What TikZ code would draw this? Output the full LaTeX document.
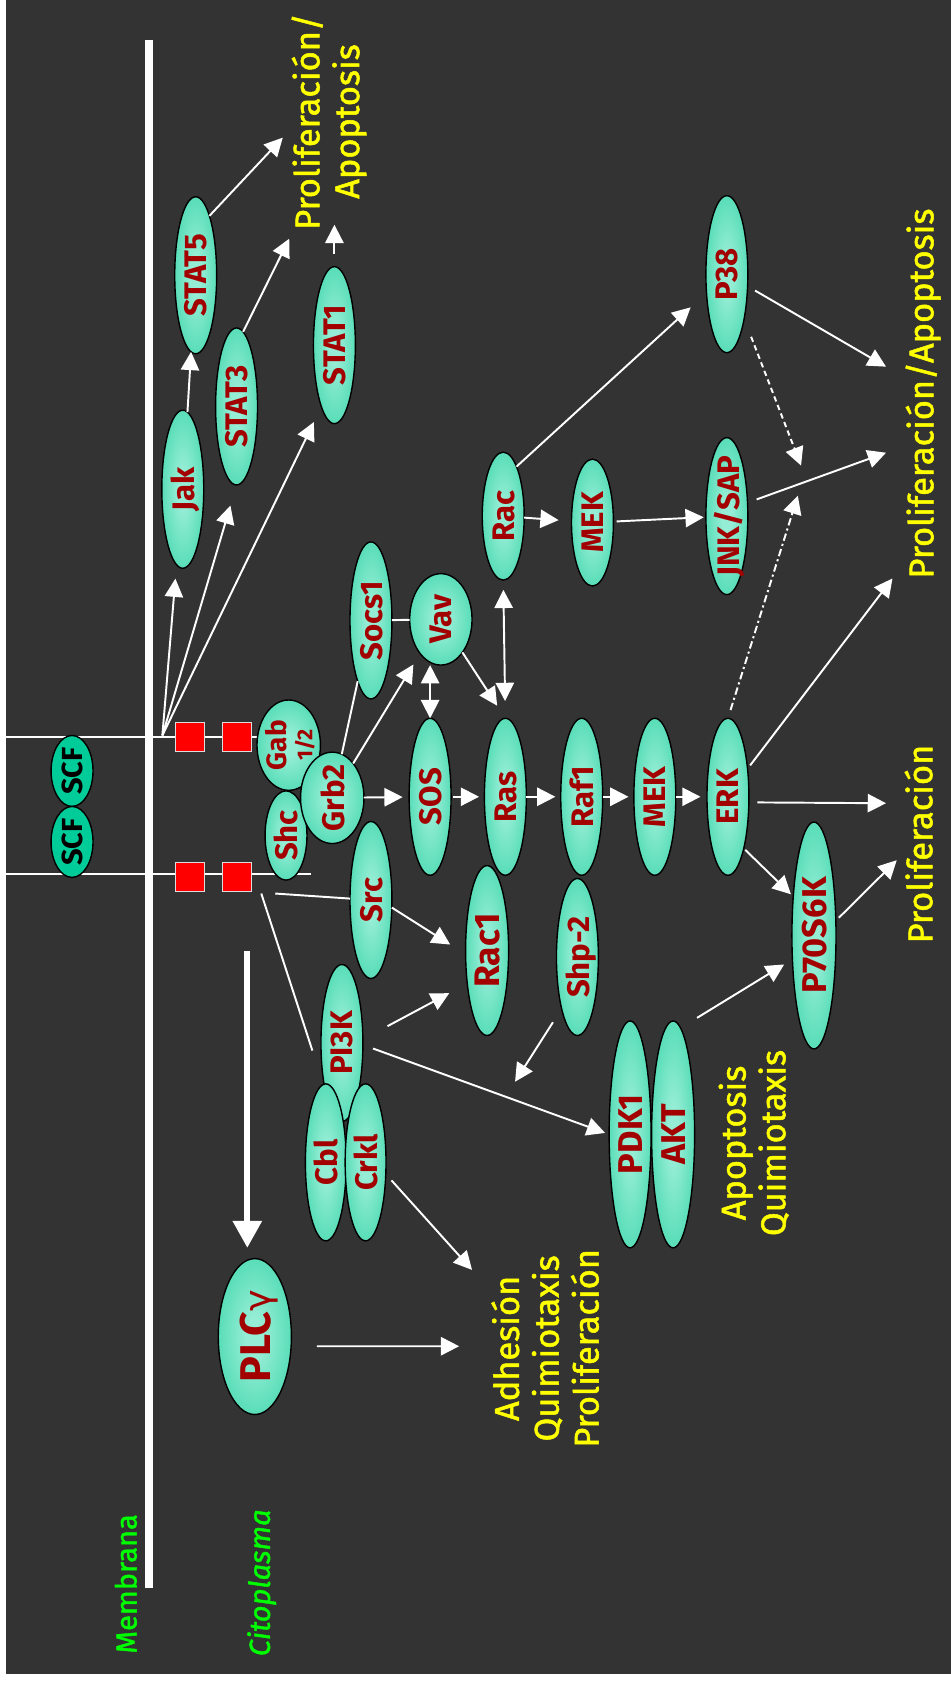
\documentclass[tikz,border=0pt]{standalone}
\usepackage{fontspec}
\setmainfont{Fira Sans}
\newfontfamily\dejavu{DejaVu Sans}
\newfontfamily\yfont{Fira Sans}[FakeBold=1.5]
\usetikzlibrary{shapes.geometric,arrows.meta}
\definecolor{bgc}{HTML}{333333}
\definecolor{mintL}{HTML}{95EDD5}
\definecolor{mintD}{HTML}{17CC98}
\definecolor{scfc}{HTML}{00CC99}
\definecolor{lblc}{HTML}{A30000}
\definecolor{yelc}{HTML}{FFFF00}
\definecolor{grnc}{HTML}{00FF00}
\definecolor{sqedge}{HTML}{DDDDDD}
\pgfdeclareradialshading{mintshade}{\pgfpoint{0bp}{0bp}}{color(0bp)=(mintL); color(6bp)=(mintL); color(46bp)=(mintD); color(50bp)=(mintD)}
\newcommand\lb[1]{\smash{\makebox[0pt]{\raisebox{-.5\height}{#1}}}}
\tikzset{
  ell/.style={ellipse, draw=black, line width=1.3pt, inner sep=0pt, outer sep=0pt, shading=mintshade, rotate=90, text=lblc, font=\bfseries\fontsize{29}{29}\selectfont},
  std/.style={ell, minimum width=146pt, minimum height=39pt},
  bigf/.style={font=\bfseries\fontsize{32}{32}\selectfont},
  scf/.style={ellipse, draw=black, line width=1.3pt, inner sep=0pt, fill=scfc, rotate=90, minimum width=66pt, minimum height=39pt, text=black, font=\bfseries\fontsize{27}{27}\selectfont},
  sq/.style={rectangle, fill=red, draw=sqedge, line width=1pt, minimum size=27pt, inner sep=0pt},
  ytxt/.style={rotate=90, text=yelc, align=center, inner sep=0pt, font=\yfont\fontsize{32}{37}\selectfont},
  gtxt/.style={rotate=90, text=grnc, inner sep=0pt, font=\yfont\fontsize{27}{27}\selectfont},
  wl/.style={draw=white, line width=1.8pt},
  arr/.style={wl, -{Triangle[width=17pt,length=17pt]}},
  darr/.style={wl, {Triangle[width=17pt,length=17pt]}-{Triangle[width=17pt,length=17pt]}},
  bigarr/.style={draw=white, line width=5.5pt, -{Triangle[width=26pt,length=25pt]}},
  dsh/.style={dash pattern=on 5pt off 3.5pt},
  dshdot/.style={dash pattern=on 7pt off 3pt on 2pt off 3pt}
}
\begin{document}
\begin{tikzpicture}[x=1pt,y=-1pt]
\useasboundingbox (0,0) rectangle (884,1568);
\fill[white] (0,0) rectangle (884,1568);
\fill[bgc] (6,0) rectangle (884,1557);
% free coordinates
\coordinate (m1) at (138.5,37);
\coordinate (m2) at (138.5,1477);
\coordinate (rl1a) at (6,685);
\coordinate (rl1b) at (240,685);
\coordinate (rl2a) at (6,813);
\coordinate (rl2b) at (289,813);
\coordinate (j1) at (151,684);
\coordinate (j2) at (256,831);
\coordinate (j3) at (243,831);
\coordinate (t1) at (263,128);
\coordinate (t2) at (269,222);
\coordinate (t3) at (311,209);
\coordinate (t4) at (824,341);
\coordinate (t5) at (745,433);
\coordinate (t6) at (824,421);
\coordinate (t7) at (742,461);
\coordinate (t8) at (830,538);
\coordinate (t9) at (824,747);
\coordinate (t10) at (834,800);
\coordinate (t11) at (479,1006);
\coordinate (t12) at (439,1181);
\coordinate (t13) at (427,1252);
\coordinate (t14) at (230,884);
% receptor lines and membrane
\draw[wl] (rl1a) -- (rl1b);
\draw[wl] (rl2a) -- (rl2b);
\draw[white, line width=7.5pt] (m1) -- (m2);
\node[sq] (sq1) at (177,685.5) {};
\node[sq] (sq2) at (220,685.5) {};
\node[sq] (sq3) at (177,815.5) {};
\node[sq] (sq4) at (220,815.5) {};
\node[scf] (SCFa) at (67,717) {\lb{SCF}};
\node[scf] (SCFb) at (67,783) {\lb{SCF}};
% proteins
\node[std, minimum width=147pt] (Jak) at (170,455) {\lb{Jak}};
\node[std] (STAT5) at (182,256) {\lb{STAT5}};
\node[std] (STAT3) at (220,378) {\lb{STAT3}};
\node[std] (STAT1) at (311,321) {\lb{STAT1}};
\node[ell, minimum width=84pt, minimum height=59pt, font=\bfseries\fontsize{26}{24}\selectfont] (Gab) at (268.5,693) {\smash{\makebox[0pt]{\raisebox{-10pt}{\begin{tabular}{@{}c@{}}Gab\\{\fontsize{20}{20}\selectfont 1/2}\end{tabular}}}}};
\node[ell, minimum width=83pt, minimum height=39pt] (Shc) at (266,777) {\lb{Shc}};
\node[ell, minimum width=85pt, minimum height=59pt] (Grb2) at (309,742) {\lb{Grb2}};
\node[std] (Socs1) at (345,577) {\lb{Socs1}};
\node[ell, minimum width=85pt, minimum height=58pt] (Vav) at (410,576) {\lb{Vav}};
\node[std] (SOS) at (400,741) {\lb{SOS}};
\node[std] (Ras) at (470,741) {\lb{Ras}};
\node[std] (Raf1) at (541,741) {\lb{Raf1}};
\node[std] (MEK) at (609,741) {\lb{MEK}};
\node[std] (ERK) at (677,741) {\lb{ERK}};
\node[std, minimum width=119pt] (Rac) at (468,480) {\lb{Rac}};
\node[std, minimum width=118pt] (MEKu) at (551,486) {\lb{MEK}};
\node[std] (JNK) at (676,480) {\lb{JNK/SAP}};
\node[std] (P38) at (676,255) {\lb{P38}};
\node[std] (Src) at (345,837) {\lb{Src}};
\node[std, minimum width=158pt, minimum height=40pt, font=\bfseries\fontsize{33}{33}\selectfont] (Rac1) at (453,884) {\lb{Rac1}};
\node[std] (Shp2) at (537,890) {\lb{Shp-2}};
\node[std, minimum width=211pt, minimum height=41pt, bigf] (P70) at (757,870) {\lb{P70S6K}};
\node[std] (PI3K) at (318,970) {\lb{PI3K}};
\node[std, minimum height=38pt] (Cbl) at (303,1081) {\lb{Cbl}};
\node[std, minimum height=38pt] (Crkl) at (340,1081) {\lb{Crkl}};
\node[std, minimum width=211pt, minimum height=39pt, bigf] (PDK1) at (586,1055) {\lb{PDK1}};
\node[std, minimum width=211pt, minimum height=40pt, bigf] (AKT) at (626,1055) {\lb{AKT}};
\node[ell, minimum width=145pt, minimum height=68pt, font=\bfseries\fontsize{40}{40}\selectfont] (PLC) at (237,1243) {\lb{PLC{\dejavu\mdseries\fontsize{34}{34}\selectfont γ}}};
% texts
\node[ytxt] (topT) at (306,113) {Proliferación/\\Apoptosis};
\node[ytxt, anchor=base] (rT1) at (868,366) {Proliferación/Apoptosis};
\node[ytxt, anchor=base] (rT2) at (867,785) {Proliferación};
\node[ytxt] (midT) at (701,1063) {Apoptosis\\Quimiotaxis};
\node[ytxt] (botT) at (507,1254) {Adhesión\\Quimiotaxis\\Proliferación};
\node[gtxt, anchor=base] (memT) at (127,1473) {Membrana};
\node[gtxt, anchor=base, font=\yfont\itshape\fontsize{27}{27}\selectfont] (citT) at (251,1472) {Citoplasma};
% connectors
\draw[arr] (Jak) -- (STAT5);
\draw[arr] (STAT5.-13) -- (t1);
\draw[arr] (STAT3.-5) -- (t2);
\draw[arr, shorten <=12pt] (STAT1.east) -- (t3);
\draw[arr, shorten >=13pt] (j1) -- (Jak);
\draw[arr, shorten >=20pt] (j1) -- (STAT3.west);
\draw[arr, shorten >=16pt] (j1) -- (STAT1.168);
\draw[wl] (Socs1) -- (Vav);
\draw[wl] (Grb2) -- (Socs1);
\draw[arr, shorten >=12pt] (Grb2) -- (Vav);
\draw[darr] (SOS.east) -- (SOS.east |- Vav.west);
\draw[arr, shorten >=14pt] (Vav) -- (Ras.east);
\draw[darr, shorten <=9pt, shorten >=16pt] (Rac.west) -- (Ras.east);
\draw[arr, shorten >=6pt] (Grb2) -- (SOS);
\draw[arr, shorten <=2pt, shorten >=5pt] (SOS) -- (Ras);
\draw[arr, shorten >=5pt] (Ras) -- (Raf1);
\draw[arr, shorten >=5pt] (Raf1) -- (MEK);
\draw[arr, shorten >=6pt] (MEK) -- (ERK);
\draw[arr, shorten >=12pt] (Rac) -- (MEKu);
\draw[arr, shorten <=3pt, shorten >=2pt] (MEKu) -- (JNK);
\draw[arr, shorten >=20pt] (Rac.-15) -- (P38);
\draw[arr, shorten <=8pt] (P38) -- (t4);
\draw[arr, dsh, shorten <=18pt] (P38) -- (t5);
\draw[arr, shorten <=9pt] (JNK.-57) -- (t6);
\draw[arr, dshdot, shorten <=8pt] (ERK.east) -- (t7);
\draw[arr, shorten <=4pt] (ERK.-35) -- (t8);
\draw[arr, shorten <=8pt] (ERK.-105) -- (t9);
\draw[arr, shorten <=2pt, shorten >=3pt] (ERK.-163) -- (P70.28);
\draw[arr, shorten <=4pt] (P70.-56) -- (t10);
\draw[arr, shorten <=18pt, shorten >=9pt] (AKT.-4) -- (P70.138);
\draw[arr, shorten <=15pt] (Shp2.163) -- (t11);
\draw[wl] (j2) -- (Src);
\draw[wl, shorten >=38pt] (j3) -- (PI3K.160);
\draw[arr, shorten >=17pt] (Src.-110) -- (Rac1.100);
\draw[arr, shorten <=26pt, shorten >=19pt] (PI3K.-80) -- (Rac1.149);
\draw[arr, shorten <=10pt, shorten >=4pt] (PI3K.-95) -- (PDK1.north);
\draw[arr, shorten <=8pt] (Crkl.-120) -- (t12);
\draw[arr, shorten <=24pt] (PLC.-105) -- (t13);
\draw[bigarr, shorten >=10pt] (t14) -- (t14 |- PLC.east);
\end{tikzpicture}
\end{document}
